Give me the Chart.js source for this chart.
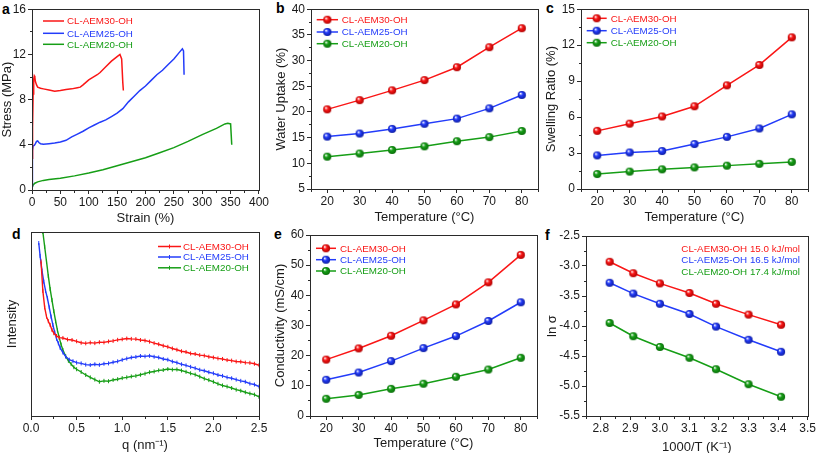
<!DOCTYPE html>
<html><head><meta charset="utf-8">
<script src="https://cdn.jsdelivr.net/npm/chart.js@4.4.1/dist/chart.umd.min.js"></script>
<style>
html,body{margin:0;padding:0;background:#fff;}
body{width:817px;height:453px;position:relative;overflow:hidden;font-family:"Liberation Sans",Arial,sans-serif;}
canvas{position:absolute;}
.lbl{position:absolute;font-weight:bold;font-size:14px;line-height:16px;color:#000;}
</style></head><body>
<div class="lbl" style="left:2px;top:1px">a</div>
<div class="lbl" style="left:276px;top:0px">b</div>
<div class="lbl" style="left:546px;top:0px">c</div>
<div class="lbl" style="left:12px;top:226px">d</div>
<div class="lbl" style="left:274px;top:226px">e</div>
<div class="lbl" style="left:545px;top:227px">f</div>
<canvas id="ca"></canvas><canvas id="cb"></canvas><canvas id="cc"></canvas>
<canvas id="cd"></canvas><canvas id="ce"></canvas><canvas id="cf"></canvas>
<script>
// ---------- data ----------
const seriesNames = ['CL-AEM30-OH','CL-AEM25-OH','CL-AEM20-OH'];
const activationEnergy = ['15.0 kJ/mol','16.5 kJ/mol','17.4 kJ/mol'];
const temperatures = [20,30,40,50,60,70,80];

// a: stress-strain
const aRedStrain = [0,1,2,3,4,5,6,8,10,15,20,30,40,50,60,70,80,85,90,100,110,115,120,130,140,150,155,158,160,161];
const aRedStress = [2.8,5.5,8.5,9.8,10.1,10.0,9.6,9.3,9.1,9.0,8.95,8.85,8.75,8.8,8.9,8.95,9.05,9.1,9.3,9.75,10.05,10.2,10.4,10.9,11.4,11.8,12.0,11.6,9.5,8.8];
const aBlueStrain = [0,0.5,1,2,4,6,8,10,12,15,20,30,40,50,60,70,80,90,100,110,120,130,140,150,160,170,180,190,200,210,220,230,240,250,260,265,267,268];
const aBlueStress = [0.3,2.5,3.5,3.9,3.95,4.1,4.3,4.35,4.2,4.1,4.05,4.1,4.15,4.25,4.4,4.7,4.95,5.2,5.5,5.75,6.0,6.2,6.5,6.8,7.2,7.8,8.3,8.8,9.2,9.7,10.2,10.6,11.1,11.6,12.2,12.5,12.3,10.2];
const aGreenStrain = [0,2,5,10,20,30,50,75,100,125,150,175,200,225,250,275,300,325,340,345,350,352];
const aGreenStress = [0.2,0.45,0.6,0.72,0.85,0.93,1.05,1.25,1.5,1.8,2.15,2.5,2.85,3.3,3.75,4.3,4.9,5.45,5.85,5.9,5.85,4.0];

// b: water uptake (%)
const wuRed = [20.5,22.3,24.2,26.2,28.7,32.6,36.3];
const wuBlue = [15.2,15.8,16.7,17.7,18.7,20.7,23.3];
const wuGreen = [11.3,11.9,12.6,13.3,14.3,15.1,16.3];

// c: swelling ratio (%)
const srRed = [4.85,5.45,6.05,6.9,8.65,10.35,12.65];
const srBlue = [2.8,3.05,3.17,3.75,4.35,5.05,6.23];
const srGreen = [1.25,1.45,1.64,1.8,1.95,2.1,2.26];

// d: SAXS
const dRedQ = [0.11,0.13,0.15,0.17,0.19,0.21,0.23,0.25,0.28,0.31,0.35,0.40,0.45,0.50,0.55,0.60,0.65,0.70,0.75,0.80,0.85,0.90,0.95,1.00,1.05,1.10,1.15,1.20,1.25,1.30,1.35,1.40,1.45,1.50,1.55,1.60,1.65,1.70,1.75,1.80,1.85,1.90,1.95,2.00,2.05,2.10,2.15,2.20,2.25,2.30,2.35,2.40,2.45,2.50];
const dRedI = [84,68,59,54,51.5,49.5,46.8,45,43.5,42.6,42.4,41.6,41.3,40.6,39.8,39.5,39.9,39.6,40.1,40.0,40.5,40.8,41.4,41.7,42.1,41.9,41.8,41.3,41.0,40.4,39.6,39.0,38.2,37.6,36.7,36.0,35.2,34.8,34.0,33.7,33.1,32.8,32.2,31.8,31.3,31.0,30.4,30.1,29.6,29.5,29.0,28.9,28.4,27.6];
const dBlueQ = [0.085,0.10,0.12,0.14,0.16,0.18,0.20,0.22,0.24,0.26,0.28,0.30,0.32,0.35,0.38,0.42,0.46,0.50,0.55,0.60,0.65,0.70,0.75,0.80,0.85,0.90,0.95,1.00,1.05,1.10,1.15,1.20,1.25,1.30,1.35,1.40,1.45,1.50,1.55,1.60,1.65,1.70,1.75,1.80,1.85,1.90,1.95,2.00,2.05,2.10,2.15,2.20,2.25,2.30,2.35,2.40,2.45,2.50];
const dBlueI = [94,87,79,73,68,64,59,54,49.5,45.5,42,39.5,37,34.5,32.3,30.6,29.8,29.0,28.6,27.9,27.7,28.1,27.8,28.4,28.6,29.2,29.7,30.5,31.2,31.8,32.1,32.6,32.4,32.7,32.2,31.8,31.0,30.6,29.6,29.0,28.1,27.5,26.7,26.0,25.1,24.6,23.8,23.2,22.3,21.8,21.0,20.5,19.8,19.1,18.6,17.6,17.1,16.0];
const dGreenQ = [0.13,0.15,0.17,0.19,0.21,0.23,0.25,0.27,0.29,0.31,0.33,0.35,0.38,0.41,0.44,0.47,0.50,0.55,0.60,0.65,0.70,0.75,0.80,0.85,0.90,0.95,1.00,1.05,1.10,1.15,1.20,1.25,1.30,1.35,1.40,1.45,1.50,1.55,1.60,1.65,1.70,1.75,1.80,1.85,1.90,1.95,2.00,2.05,2.10,2.15,2.20,2.25,2.30,2.35,2.40,2.45,2.50];
const dGreenI = [100,92,84,76,69,63,57,51.5,46.5,42.5,38.8,35.9,32.5,30.0,28.2,26.5,25.4,23.9,22.3,21.0,19.8,18.6,19.1,18.9,19.6,20.0,20.6,21.0,21.5,21.8,22.4,23.0,23.8,24.2,24.8,25.0,25.5,25.2,25.3,24.7,24.0,23.2,22.5,21.4,20.3,19.5,18.6,17.5,16.6,16.0,15.2,14.3,13.7,12.9,12.2,11.6,10.4];

// e: conductivity (mS/cm)
const condRed = [18.7,22.4,26.6,31.7,37.0,44.3,53.4];
const condBlue = [12.0,14.4,18.2,22.5,26.5,31.5,37.7];
const condGreen = [5.7,7.0,9.0,10.7,13.0,15.4,19.3];

// f: Arrhenius
const invT = [2.83,2.91,3.00,3.10,3.19,3.30,3.41];
const lnRed = [-2.93,-3.12,-3.29,-3.45,-3.63,-3.81,-3.98];
const lnBlue = [-3.28,-3.46,-3.63,-3.80,-4.01,-4.23,-4.43];
const lnGreen = [-3.95,-4.17,-4.35,-4.53,-4.72,-4.97,-5.18];

// tick values
const aXTicks = [0,50,100,150,200,250,300,350,400];
const aYTicks = [0,4,8,12,16];
const tempTicks = [20,30,40,50,60,70,80];
const bYTicks = [5,10,15,20,25,30,35,40];
const cYTicks = [0,3,6,9,12,15];
const dXTicks = [0,0.5,1.0,1.5,2.0,2.5];
const eYTicks = [0,10,20,30,40,50,60];
const fXTicks = [2.8,2.9,3.0,3.1,3.2,3.3,3.4,3.5];
const fYTicks = [-2.5,-3.0,-3.5,-4.0,-4.5,-5.0,-5.5];

// ---------- style ----------
const FONT = '"Liberation Sans", Arial, sans-serif';
Chart.defaults.font.family = FONT;
const RED = 'rgb(250,22,22)', BLUE = 'rgb(35,60,250)', GREEN = 'rgb(22,158,22)';
const RIM = {[RED]:'#a80000',[BLUE]:'#0c1a9a',[GREEN]:'#0a6a0a'};
const AXC = '#2a2a2a';
const TICK_SIZE = 12, TITLE_SIZE = 13;

function sphere(color){
  const c = document.createElement('canvas'); c.width = c.height = 10;
  const g = c.getContext('2d');
  const gr = g.createRadialGradient(3.6,3.4,0.2,5,5,4.4);
  gr.addColorStop(0,'#ffffff'); gr.addColorStop(0.38,color); gr.addColorStop(1,RIM[color]);
  g.fillStyle = gr; g.beginPath(); g.arc(5,5,4.1,0,Math.PI*2); g.fill();
  return c;
}
const SPH = {[RED]:sphere(RED),[BLUE]:sphere(BLUE),[GREEN]:sphere(GREEN)};

const framePlugin = {
  id:'frame',
  afterDraw(chart, args, o){
    const ctx = chart.ctx, a = chart.chartArea;
    const al = v => Math.round(v - 0.5) + 0.5;
    ctx.save();
    ctx.strokeStyle = AXC; ctx.lineWidth = 1;
    ctx.strokeRect(al(a.left), al(a.top), Math.round(a.right - a.left), Math.round(a.bottom - a.top));
    const drawMinor = (scale, step, horiz) => {
      if (!step) return;
      const majors = scale.ticks.map(t => t.value);
      for (let v = scale.min; v <= scale.max + 1e-9; v += step) {
        const vv = Math.round(v*1000)/1000;
        if (majors.some(m => Math.abs(m - vv) < 1e-6)) continue;
        const p = al(scale.getPixelForValue(vv));
        ctx.beginPath();
        if (horiz) { ctx.moveTo(p, al(a.bottom)); ctx.lineTo(p, al(a.bottom) + 2.5); }
        else { ctx.moveTo(al(a.left), p); ctx.lineTo(al(a.left) - 2.5, p); }
        ctx.stroke();
      }
    };
    drawMinor(chart.scales.x, o.xMinor, true);
    drawMinor(chart.scales.y, o.yMinor, false);
    ctx.restore();
  }
};

const legendPlugin = {
  id:'lgd',
  afterDraw(chart, args, o){
    if (!o || !o.ys) return;
    const ctx = chart.ctx;
    ctx.save();
    chart.data.datasets.forEach((ds, i) => {
      const y = o.ys[i], col = ds.borderColor;
      if (o.x1 > o.x0) {
        ctx.strokeStyle = col; ctx.lineWidth = 1.5;
        ctx.beginPath(); ctx.moveTo(o.x0, y); ctx.lineTo(o.x1, y); ctx.stroke();
        const mx = (o.x0 + o.x1)/2;
        if (o.marker === 'sphere') ctx.drawImage(SPH[col], mx - 5, y - 5, 10, 10);
        if (o.marker === 'tick') { ctx.lineWidth = 1; ctx.beginPath(); ctx.moveTo(mx, y-2); ctx.lineTo(mx, y+2); ctx.stroke(); }
      }
      ctx.fillStyle = col;
      ctx.font = '9.8px ' + FONT;
      ctx.textAlign = o.align || 'left';
      ctx.textBaseline = 'middle';
      const txt = o.suffix ? ds.label + ' ' + o.suffix[i] : ds.label;
      ctx.fillText(txt, o.tx, y + 0.5);
    });
    ctx.restore();
  }
};

function pts(xs, ys){ return xs.map((x, i) => ({x, y: ys[i]})); }

function build(id, box, area, datasets, X, Y, frame, legend){
  const cv = document.getElementById(id);
  const [x0,y0,x1,y1] = box, [L,T,R,B] = area;
  cv.style.left = x0 + 'px'; cv.style.top = y0 + 'px';
  cv.width = x1 - x0; cv.height = y1 - y0;
  cv.style.width = (x1 - x0) + 'px'; cv.style.height = (y1 - y0) + 'px';
  const lh = TITLE_SIZE * 1.2;
  const axis = (S, horiz) => ({
    type:'linear', min:S.min, max:S.max,
    afterFit: s => { if (horiz) s.height = y1 - B; else s.width = L - x0; },
    afterBuildTicks: s => { s.ticks = (S.ticks || []).map(v => ({value: v})); },
    ticks:{ display: !!S.ticks, color:'#1a1a1a', font:{size:TICK_SIZE, family:FONT}, padding: horiz ? 1 : 2, autoSkip:false, maxRotation:0,
            callback: S.fmt || (v => String(v)) },
    grid:{ display: !!S.ticks, drawOnChartArea:false, drawTicks: !!S.ticks, tickLength:4, color:AXC, lineWidth:1 },
    border:{ display:false },
    title:{ display:true, text:S.title, color:'#1a1a1a', font:{size:TITLE_SIZE, family:FONT},
            padding: horiz ? {top:0, bottom:S.toff - lh/2} : {top:S.toff - lh/2, bottom:0} }
  });
  return new Chart(cv, {
    type:'scatter',
    data:{ datasets },
    options:{
      responsive:false, animation:false, devicePixelRatio:1,
      layout:{ padding:{ left:0, top:T - y0, right:x1 - R, bottom:0 } },
      plugins:{ legend:{display:false}, tooltip:{enabled:false}, frame, lgd: legend },
      scales:{ x: axis(X, true), y: axis(Y, false) }
    },
    plugins:[framePlugin, legendPlugin]
  });
}

function lineDs(label, col, data){
  return { label, data, showLine:true, borderColor:col, backgroundColor:col, borderWidth:1.5, pointRadius:0, tension:0 };
}
function ballDs(label, col, data){
  return { label, data, showLine:true, borderColor:col, backgroundColor:col, borderWidth:1.5,
           pointStyle: SPH[col], pointRadius:5, tension:0 };
}
function saxsDs(label, col, data){
  return { label, data, showLine:true, borderColor:col, backgroundColor:col, borderWidth:1.4,
           pointStyle:'line', rotation:90, pointRadius:2, pointBorderWidth:1, tension:0 };
}
const f1 = v => v.toFixed(1);

// a
build('ca', [0,0,270,225], [32,8,259,190],
  [lineDs(seriesNames[0], RED, pts(aRedStrain, aRedStress)),
   lineDs(seriesNames[1], BLUE, pts(aBlueStrain, aBlueStress)),
   lineDs(seriesNames[2], GREEN, pts(aGreenStrain, aGreenStress))],
  {min:0, max:400, ticks:aXTicks, title:'Strain (%)', toff:7},
  {min:0, max:16, ticks:aYTicks, title:'Stress (MPa)', toff:7},
  {xMinor:25, yMinor:2},
  {x0:43, x1:64, tx:67, ys:[21,33.3,44.3], marker:'none'});

// b
build('cb', [270,0,545,225], [311,8,538,189],
  [ballDs(seriesNames[0], RED, pts(temperatures, wuRed)),
   ballDs(seriesNames[1], BLUE, pts(temperatures, wuBlue)),
   ballDs(seriesNames[2], GREEN, pts(temperatures, wuGreen))],
  {min:15, max:85, ticks:tempTicks, title:'Temperature (°C)', toff:8},
  {min:5, max:40, ticks:bYTicks, title:'Water Uptake (%)', toff:11},
  {xMinor:5, yMinor:2.5},
  {x0:46.7, x1:68, tx:71.7, ys:[19.7,32,43.7], marker:'sphere'});

// c
build('cc', [543,0,817,225], [581,7,808,189],
  [ballDs(seriesNames[0], RED, pts(temperatures, srRed)),
   ballDs(seriesNames[1], BLUE, pts(temperatures, srBlue)),
   ballDs(seriesNames[2], GREEN, pts(temperatures, srGreen))],
  {min:15, max:85, ticks:tempTicks, title:'Temperature (°C)', toff:8},
  {min:0, max:15, ticks:cYTicks, title:'Swelling Ratio (%)', toff:8},
  {xMinor:5, yMinor:1.5},
  {x0:43.7, x1:63.7, tx:67.7, ys:[18.3,30.7,42.7], marker:'sphere'});

// d
build('cd', [0,225,270,453], [31,232,259,416],
  [saxsDs(seriesNames[0], RED, pts(dRedQ, dRedI)),
   saxsDs(seriesNames[1], BLUE, pts(dBlueQ, dBlueI)),
   saxsDs(seriesNames[2], GREEN, pts(dGreenQ, dGreenI))],
  {min:0, max:2.5, ticks:dXTicks, title:'q (nm⁻¹)', toff:8, fmt:f1},
  {min:0, max:100, ticks:null, title:'Intensity', toff:12},
  {xMinor:0.25, yMinor:0},
  {x0:158, x1:181, tx:183, ys:[21.5,32,42.8], marker:'tick'});

// e
build('ce', [270,225,545,453], [310,235,537,416],
  [ballDs(seriesNames[0], RED, pts(temperatures, condRed)),
   ballDs(seriesNames[1], BLUE, pts(temperatures, condBlue)),
   ballDs(seriesNames[2], GREEN, pts(temperatures, condGreen))],
  {min:15, max:85, ticks:tempTicks, title:'Temperature (°C)', toff:10},
  {min:0, max:60, ticks:eYTicks, title:'Conductivity (mS/cm)', toff:10},
  {xMinor:5, yMinor:5},
  {x0:46, x1:66, tx:70, ys:[23.3,34.7,46], marker:'sphere'});

// f
build('cf', [545,225,817,453], [586,236,808,416],
  [ballDs(seriesNames[0], RED, pts(invT, lnRed)),
   ballDs(seriesNames[1], BLUE, pts(invT, lnBlue)),
   ballDs(seriesNames[2], GREEN, pts(invT, lnGreen))],
  {min:2.75, max:3.5, ticks:fXTicks, title:'1000/T (K⁻¹)', toff:6, fmt:f1},
  {min:-5.5, max:-2.5, ticks:fYTicks, title:'ln σ', toff:7, fmt:f1},
  {xMinor:0.05, yMinor:0.25},
  {x0:0, x1:0, tx:255, ys:[23.3,34.7,46.3], align:'right', suffix:activationEnergy});
</script>
</body></html>
